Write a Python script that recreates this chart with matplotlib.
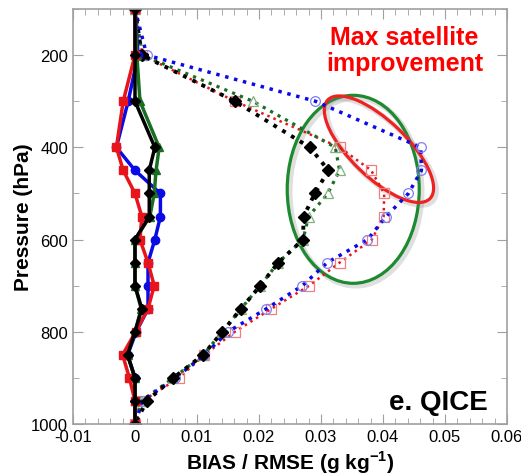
import matplotlib
matplotlib.use('Agg')
import matplotlib.pyplot as plt
from matplotlib.patches import Ellipse
from matplotlib.transforms import ScaledTranslation
from matplotlib.ticker import MultipleLocator, FuncFormatter

plt.rcParams['font.family'] = ['Liberation Sans', 'DejaVu Sans']
plt.rcParams['mathtext.fontset'] = 'custom'
plt.rcParams['mathtext.rm'] = 'Liberation Sans'
plt.rcParams['mathtext.bf'] = 'Liberation Sans:bold'

# pressure levels (hPa)
levels = [100, 200, 300, 400, 450, 500, 550, 600, 650, 700, 750, 800, 850, 900, 950, 1000]

# BIAS (solid lines)
bias_red = [0, 0, -0.0019, -0.003, -0.0019, 0, 0.0011, 0.0008, 0.0021, 0.0031, 0.0021, 0.0001, -0.002, -0.0009, 0, 0]
bias_blue = [0, 0.0005, -0.0011, -0.003, 0, 0.0041, 0.0041, 0.0032, 0.0021, 0.0021, 0.0021, 0.0002, -0.0012, 0, 0, 0]
bias_green = [0, 0.0003, 0.0008, 0.0039, 0.0034, 0.0031, 0.0024, 0, 0, 0, 0.001, 0, -0.0012, 0, 0, 0]
bias_black = [0, 0, 0, 0.0032, 0.0023, 0.0023, 0.0023, 0, 0, 0, 0.0011, 0, -0.0012, 0, 0, 0]

# RMSE (dotted lines)
rmse_red = [0, 0.0012, 0.0161, 0.033, 0.0381, 0.0402, 0.0401, 0.0382, 0.033, 0.0281, 0.022, 0.0161, 0.0112, 0.0071, 0.0012, 0]
rmse_blue = [0, 0.0019, 0.0291, 0.0461, 0.0462, 0.0441, 0.0405, 0.0375, 0.031, 0.027, 0.0212, 0.015, 0.0112, 0.0065, 0.0012, 0]
rmse_green = [0, 0.0012, 0.019, 0.0323, 0.033, 0.0311, 0.028, 0.0271, 0.0231, 0.0202, 0.0171, 0.0141, 0.011, 0.0062, 0.001, 0]
rmse_black = [0, 0.0011, 0.0161, 0.0282, 0.0312, 0.029, 0.0272, 0.0271, 0.0231, 0.0202, 0.0171, 0.0141, 0.011, 0.0062, 0.0019, 0]

RED = '#e8141c'
BLUE = '#0a0ae6'
GREEN = '#1a6e24'
GRAY = '#a0a0a0'

fig = plt.figure(figsize=(5.21, 4.77), dpi=100)
ax = fig.add_axes([0.1401, 0.109, 0.833, 0.870])

# RMSE
ax.plot(rmse_red, levels, ls=':', lw=1.8, color=RED, marker='s', ms=7,
        mfc='none', mec='#f08080', mew=0.9)
ax.plot(rmse_green, levels, ls=':', lw=2.3, color=GREEN, marker='^', ms=7,
        mfc='none', mec='#80b080', mew=0.9)
ax.plot(rmse_blue, levels, ls=':', lw=2.5, color=BLUE, marker='o', ms=7,
        mfc='none', mec='#8080f0', mew=0.9)
ax.plot(rmse_black, levels, ls=':', lw=2.8, color='black', marker='D', ms=6,
        mfc='black', mec='black')

# BIAS
ax.plot(bias_blue, levels, lw=2.5, color=BLUE, marker='o', ms=6)
ax.plot(bias_green, levels, lw=2.5, color=GREEN, marker='^', ms=6)
ax.plot(bias_red, levels, lw=2.5, color=RED, marker='s', ms=6)
ax.plot(bias_black, levels, lw=2.5, color='black', marker='D', ms=5.5)

# annotation ellipses, sized in pixels, centred on data points
def ring(cx, cy, w, h, angle, color):
    trans = fig.dpi_scale_trans + ScaledTranslation(cx, cy, ax.transData)
    shadow = Ellipse((0.025, -0.025), w / 100, h / 100, angle=angle, fill=False,
                     ec='gray', lw=4, alpha=0.25, transform=trans)
    e = Ellipse((0, 0), w / 100, h / 100, angle=angle, fill=False,
                ec=color, lw=2.3, transform=trans)
    ax.add_patch(shadow)
    ax.add_patch(e)

ring(0.0352, 491, 132, 188, 0, '#1e8a30')
ring(0.03935, 404, 142, 56, -44, '#ee2222')

ax.text(0.0435, 189, 'Max satellite\nimprovement', color='red', fontsize=18,
        fontweight='bold', ha='center', va='center', linespacing=1.1)
ax.text(0.0569, 952, 'e. QICE', color='black', fontsize=20,
        fontweight='bold', ha='right', va='center')

ax.set_xlim(-0.01, 0.06)
ax.set_ylim(1000, 100)
ax.xaxis.set_major_locator(MultipleLocator(0.01))
ax.xaxis.set_minor_locator(MultipleLocator(0.002))
ax.yaxis.set_major_locator(MultipleLocator(200))
ax.yaxis.set_minor_locator(MultipleLocator(100))
ax.xaxis.set_major_formatter(FuncFormatter(lambda v, p: '0' if abs(v) < 1e-9 else f'{round(v, 3):g}'))

ax.tick_params(which='both', direction='in', top=True, right=True,
               color=GRAY, labelsize=12)
ax.tick_params(which='major', length=7)
ax.tick_params(which='minor', length=4)
for s in ax.spines.values():
    s.set_color(GRAY)
    s.set_linewidth(1.2)

ax.set_xlabel(r'BIAS / RMSE (g kg$^{\mathbf{-1}}$)', fontsize=15, fontweight='bold')
ax.set_ylabel('Pressure (hPa)', fontsize=15, fontweight='bold')
ax.xaxis.set_label_coords(0.5, -0.058)
ax.yaxis.set_label_coords(-0.092, 0.5)

fig.savefig('out.png', dpi=100)
